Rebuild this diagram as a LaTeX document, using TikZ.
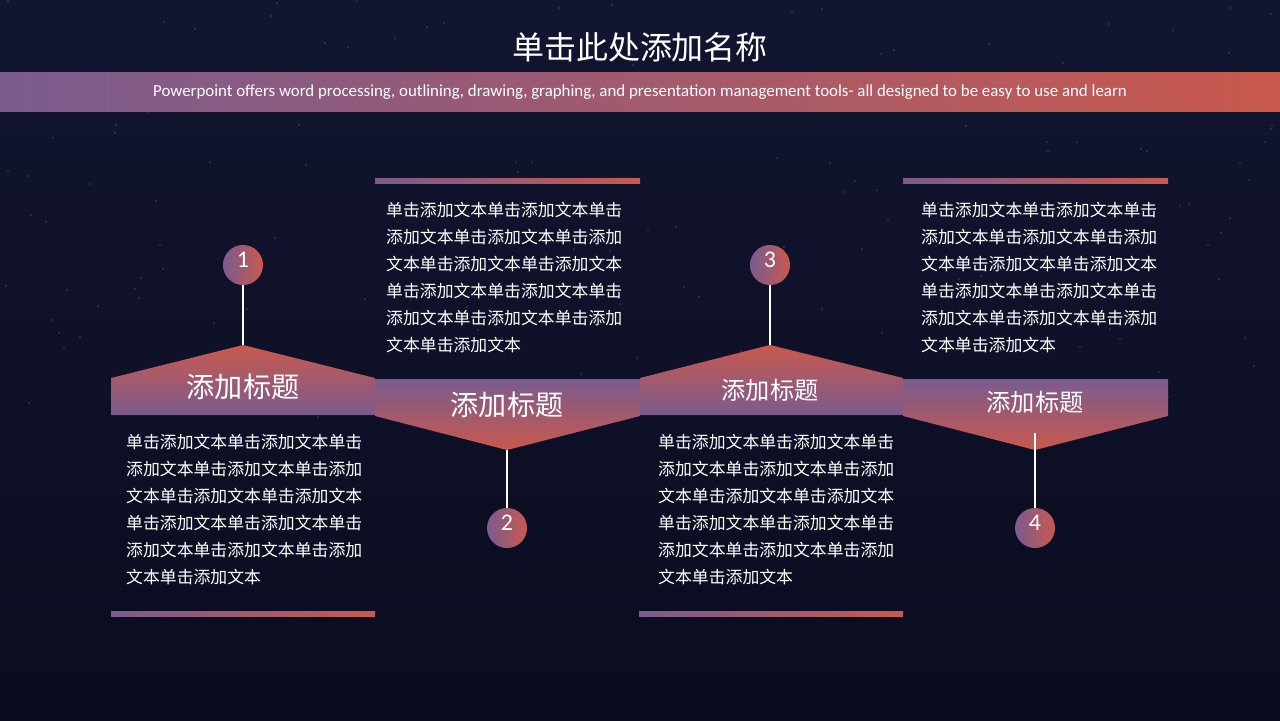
\documentclass[tikz,border=0pt]{standalone}
\usepackage{fontspec}
\setmainfont{Carlito}
\newfontfamily\cjk{Noto Sans CJK SC}
\definecolor{slred}{HTML}{C9594D}
\definecolor{slpurple}{HTML}{7A5B8E}
\definecolor{slbg}{HTML}{121530}
\definecolor{slbgb}{HTML}{0A0D1F}
\newcommand{\blocktext}{单击添加文本单击添加文本单击\\添加文本单击添加文本单击添加\\文本单击添加文本单击添加文本\\单击添加文本单击添加文本单击\\添加文本单击添加文本单击添加\\文本单击添加文本}
\tikzset{
  upshape/.style={shading=axis,top color=slred,bottom color=slpurple,draw=none},
  downshape/.style={shading=axis,top color=slpurple,bottom color=slred,draw=none},
  bar/.style={shading=axis,left color=slpurple,right color=slred,draw=none},
  dot/.style={circle,minimum size=20mm,inner sep=0pt,shading=axis,shading angle=45,left color=slpurple,right color=slred,text=white,font=\fontsize{34}{34}\selectfont},
  body/.style={anchor=north west,align=left,text=white,inner sep=0pt,font=\cjk\fontsize{24}{38.5}\selectfont},
  head/.style={text=white,font=\cjk\fontsize{40}{40}\selectfont},
  stem/.style={draw=white,line width=2.5pt}
}
\begin{document}
\begin{tikzpicture}[x=0.5mm,y=-0.5mm]
\useasboundingbox (0,0) rectangle (1280,720);
\shade[top color=slbg,bottom color=slbgb] (0,0) rectangle (1280,720);
% stars
\pgfmathsetseed{7}
\foreach \i in {1,...,160}{
  \pgfmathsetmacro{\sx}{random(0,1280)}
  \pgfmathsetmacro{\sy}{random(0,420)}
  \fill[white,opacity=0.45] (\sx,\sy) circle (0.7);
}
% title and banner
\node[text=white,font=\cjk\fontsize{45.5}{45.5}\selectfont] (title) at (640,47) {单击此处添加名称};
\shade[bar] (0,73) rectangle (1280,111);
\node[text=white,font=\fontsize{24}{24}\selectfont] (sub) at (640,92) {Powerpoint offers word processing, outlining, drawing, graphing, and presentation management tools- all designed to be easy to use and learn};
% step shapes
\shade[upshape] (111,415) -- (111,378) -- (243,345) -- (375,378) -- (375,415) -- cycle;
\shade[downshape] (375,379) -- (640,379) -- (640,416) -- (507,450) -- (375,416) -- cycle;
\shade[upshape] (640,415) -- (640,378) -- (770,345) -- (903,378) -- (903,415) -- cycle;
\shade[downshape] (903,379) -- (1168,379) -- (1168,416) -- (1035,450) -- (903,416) -- cycle;
\node[head] (h1) at (243,387) {添加标题};
\node[head] (h2) at (507,405) {添加标题};
\node[head,font=\cjk\fontsize{34.5}{34.5}\selectfont] (h3) at (770,390) {添加标题};
\node[head,font=\cjk\fontsize{34.5}{34.5}\selectfont] (h4) at (1035,402) {添加标题};
% anchor points on shapes
\coordinate (a1) at (243,345);
\coordinate (a2) at (507,450);
\coordinate (a3) at (770,345);
\coordinate (a4) at (1035,433);
% circles
\node[dot] (c1) at (243,265) {\raisebox{5mm}{1}\hspace{3mm}};
\node[dot] (c2) at (507,528) {\raisebox{5mm}{2}\hspace{3mm}};
\node[dot] (c3) at (770,265) {\raisebox{5mm}{3}\hspace{3mm}};
\node[dot] (c4) at (1035,528) {\raisebox{5mm}{4}\hspace{3mm}};
\draw[stem] (c1) -- (a1);
\draw[stem] (c2) -- (a2);
\draw[stem] (c3) -- (a3);
\draw[stem] (c4) -- (a4);
% texts and bars
\node[body] (t1) at (126,434) {\blocktext};
\node[body] (t2) at (386,202) {\blocktext};
\node[body] (t3) at (658,434) {\blocktext};
\node[body] (t4) at (921,202) {\blocktext};
\shade[bar] (111,611) rectangle (375,616);
\shade[bar] (375,178) rectangle (640,183);
\shade[bar] (639,611) rectangle (903,616);
\shade[bar] (903,178) rectangle (1168,183);
\end{tikzpicture}
\end{document}
